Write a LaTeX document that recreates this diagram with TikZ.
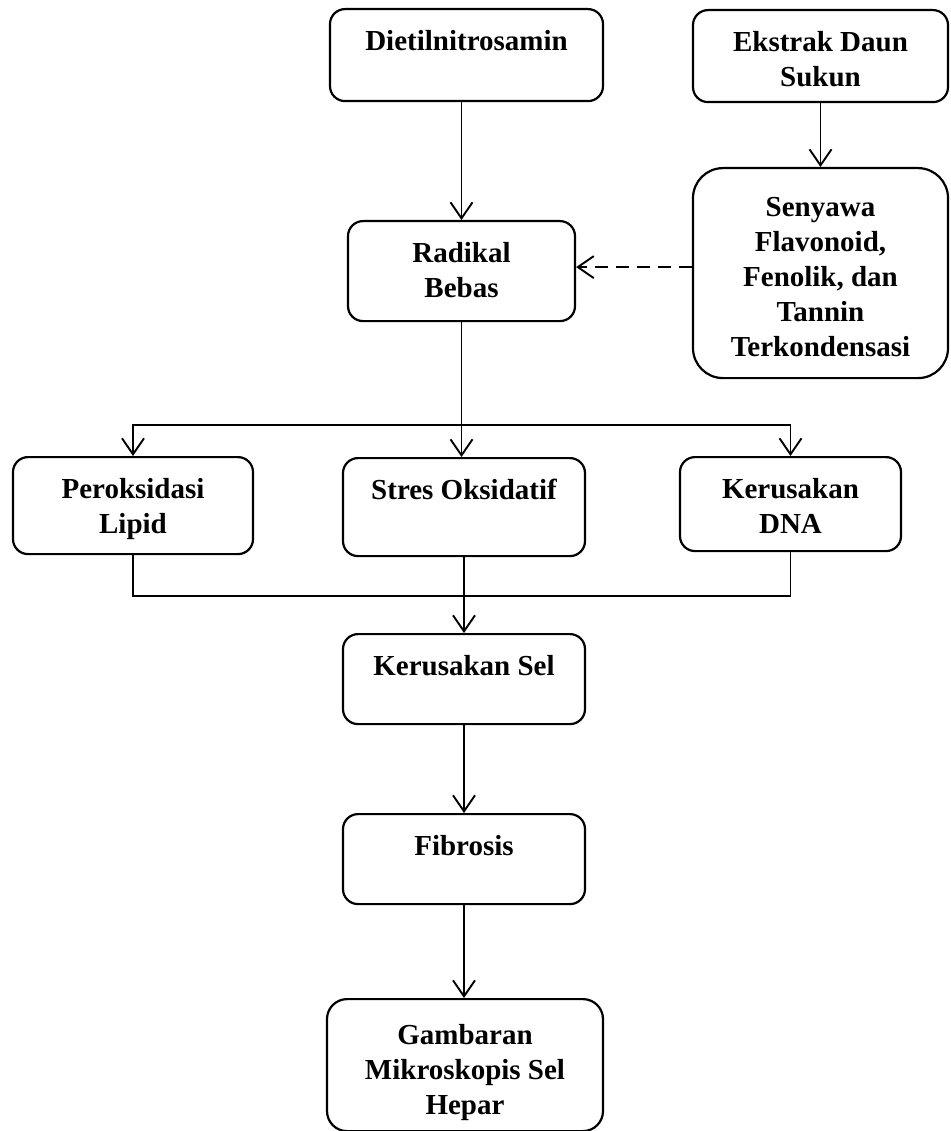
\documentclass[tikz,border=0pt]{standalone}
\usepackage{fontspec}
\setmainfont{Liberation Serif}
\usetikzlibrary{arrows.meta,calc}
\begin{document}
\begin{tikzpicture}[x=1pt,y=-1pt,
  box/.style={draw, line width=2.2pt, rounded corners=15pt, inner xsep=0pt, inner ysep=0pt,
    align=flush center, anchor=north, text height=41pt,
    font=\fontsize{29}{35}\selectfont\bfseries},
  arr/.style={line width=1.9pt, -{Straight Barb[length=16pt,width=22pt]}},
  link/.style={line width=1.9pt}
]
\useasboundingbox (0,0) rectangle (950,1131);
% boxes: (center x, top y), width, height
\node[box, text width=273pt, text depth=51pt] (diet) at (466.5,8) {Dietilnitrosamin};
\node[box, text width=255pt, text depth=51pt] (ekst) at (820.5,9) {Ekstrak Daun\\Sukun};
\node[box, text width=255pt, rounded corners=30pt, text height=48pt, text depth=162pt] (sen) at (820.5,167)
  {Senyawa\\Flavonoid,\\Fenolik, dan\\Tannin\\Terkondensasi};
\node[box, text width=227pt, text depth=59pt] (rad) at (461.5,220) {Radikal\\Bebas};
\node[box, text width=240pt, text depth=56pt] (per) at (133,456) {Peroksidasi\\Lipid};
\node[box, text width=242pt, text depth=57pt] (str) at (464,457) {Stres Oksidatif};
\node[box, text width=221pt, text depth=53pt] (dna) at (790.5,456) {Kerusakan\\DNA};
\node[box, text width=242pt, text depth=49pt] (ks) at (464,633) {Kerusakan Sel};
\node[box, text width=242pt, text depth=49pt] (fib) at (464,813) {Fibrosis};
\node[box, text width=276pt, rounded corners=20pt, text height=45pt, text depth=87pt] (gam) at (465,998)
  {Gambaran\\Mikroskopis Sel\\Hepar};
% connectors
\draw[arr] (rad.north |- diet.south) -- (rad.north);
\draw[arr] (ekst.south) -- (sen.north);
\draw[arr, dash pattern=on 13pt off 8pt] ([yshift=6pt]sen.west) -- ([yshift=6pt]sen.west -| rad.east);
\path (rad.south) ++(0,103) coordinate (br);
\path (str.south) ++(0,39) coordinate (jn);
\draw[arr] (rad.south) -- (rad.south |- str.north);
\draw[arr] (br) -| (per.north);
\draw[arr] (br) -| (dna.north);
\draw[link] (per.south) |- (jn);
\draw[link] (dna.south) |- (jn);
\draw[arr] (str.south) -- (ks.north);
\draw[arr] (ks.south) -- (fib.north);
\draw[arr] (fib.south) -- (fib.south |- gam.north);
\end{tikzpicture}
\end{document}
